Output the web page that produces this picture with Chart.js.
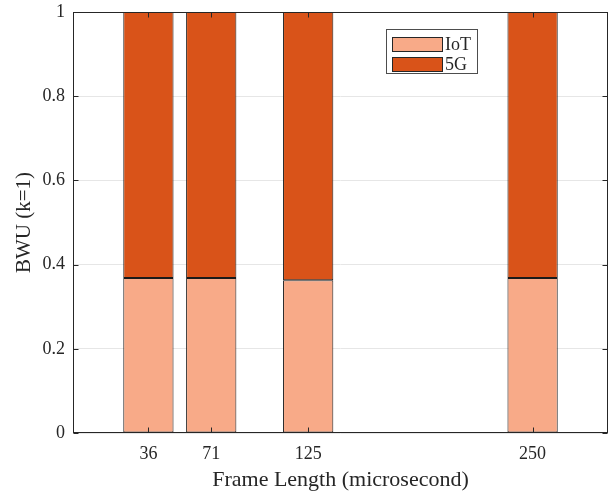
<!DOCTYPE html>
<html>
<head>
<meta charset="utf-8">
<script src="https://cdn.jsdelivr.net/npm/chart.js@4/dist/chart.umd.min.js"></script>
<style>
  html, body { margin: 0; padding: 0; background: #fff; }
  #wrap { width: 615px; height: 495px; }
</style>
</head>
<body>
<div id="wrap"><canvas id="bwu" width="615" height="495"></canvas></div>
<script>
// frame lengths (microsecond) and the share of each service per frame
const frameLengths = [36, 71, 125, 250];
const iotShare = [0.368, 0.368, 0.363, 0.368];
const fiveGShare = [0.632, 0.632, 0.637, 0.632];
const seriesNames = ['IoT', '5G'];
const seriesColors = ['rgb(248,170,136)', 'rgb(217,83,25)'];

const serif = '"Liberation Serif", "Times New Roman", serif';
const ink = '#262626';

function toPoints(values) {
  return frameLengths.map((f, i) => ({ x: f, y: values[i] }));
}

// box around the plot, inward ticks on all four sides, and the legend
const axesBox = {
  id: 'axesBox',
  afterDraw(chart) {
    const { ctx, chartArea: a, scales } = chart;
    const L = Math.round(a.left) + 0.5, R = Math.round(a.right) - 0.5;
    const T = Math.round(a.top) + 0.5, B = Math.round(a.bottom) - 0.5;
    ctx.save();
    ctx.strokeStyle = ink;
    ctx.lineWidth = 1;
    ctx.strokeRect(L, T, R - L, B - T);

    ctx.beginPath();
    scales.y.ticks.forEach(t => {
      const y = Math.round(scales.y.getPixelForValue(t.value)) + 0.5;
      ctx.moveTo(L, y); ctx.lineTo(L + 5, y);
      ctx.moveTo(R, y); ctx.lineTo(R - 5, y);
    });
    frameLengths.forEach(f => {
      const x = Math.round(scales.x.getPixelForValue(f)) + 0.5;
      ctx.moveTo(x, B); ctx.lineTo(x, B - 5);
      ctx.moveTo(x, T); ctx.lineTo(x, T + 5);
    });
    ctx.stroke();

    // legend
    ctx.fillStyle = '#fff';
    ctx.fillRect(386.5, 29.5, 91, 44);
    ctx.strokeStyle = '#4d4d4d';
    ctx.strokeRect(386.5, 29.5, 91, 44);
    ctx.font = '18px ' + serif;
    ctx.textBaseline = 'middle';
    seriesNames.forEach((name, i) => {
      const top = 37 + i * 20;
      ctx.fillStyle = seriesColors[i];
      ctx.fillRect(392.5, top + 0.5, 50, 14);
      ctx.strokeStyle = ink;
      ctx.strokeRect(392.5, top + 0.5, 50, 14);
      ctx.fillStyle = ink;
      ctx.fillText(name, 445, top + 8);
    });
    ctx.restore();
  }
};

new Chart(document.getElementById('bwu'), {
  type: 'bar',
  data: {
    datasets: [
      { label: seriesNames[0], data: toPoints(iotShare), backgroundColor: seriesColors[0] },
      { label: seriesNames[1], data: toPoints(fiveGShare), backgroundColor: seriesColors[1] }
    ].map(ds => Object.assign(ds, {
      borderColor: '#1a1a1a',
      borderWidth: 1,
      borderSkipped: false,
      barPercentage: 1,
      categoryPercentage: 0.8
    }))
  },
  options: {
    responsive: false,
    animation: false,
    layout: { padding: { top: 12, right: 7, bottom: 0, left: 0 } },
    plugins: { legend: { display: false }, tooltip: { enabled: false } },
    scales: {
      x: {
        type: 'linear',
        stacked: true,
        offset: false,
        min: -6,
        max: 292,
        afterBuildTicks: s => { s.ticks = frameLengths.map(v => ({ value: v })); },
        afterFit: s => { s.height = 62; s.paddingLeft = 0; s.paddingRight = 0; },
        grid: { display: false, offset: false, drawTicks: false },
        border: { display: false },
        ticks: {
          padding: 10,
          color: ink,
          maxRotation: 0,
          autoSkip: false,
          font: { family: serif, size: 18 },
          callback: v => String(v)
        },
        title: {
          display: true,
          text: 'Frame Length (microsecond)',
          color: ink,
          padding: { top: 2, bottom: 2 },
          font: { family: serif, size: 22 }
        }
      },
      y: {
        stacked: true,
        min: 0,
        max: 1,
        afterFit: s => { s.width = 73; s.paddingTop = 0; s.paddingBottom = 0; },
        grid: { color: '#e6e6e6', drawTicks: false },
        border: { display: false },
        ticks: {
          stepSize: 0.2,
          padding: 8,
          color: ink,
          font: { family: serif, size: 18 },
          callback: v => String(+v.toFixed(1))
        },
        title: {
          display: true,
          text: 'BWU (k=1)',
          color: ink,
          padding: { top: 12, bottom: 12 },
          font: { family: serif, size: 21 }
        }
      }
    }
  },
  plugins: [axesBox]
});
</script>
</body>
</html>
